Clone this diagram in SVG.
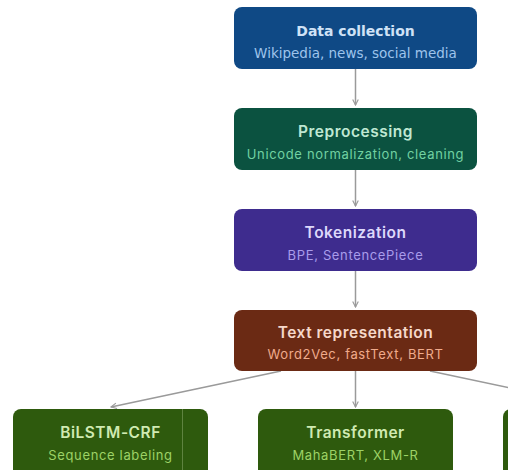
<svg xmlns="http://www.w3.org/2000/svg" width="508" height="470" viewBox="0 0 508 470">
<defs>
<style>
.t{font-family:Inter,"Noto Sans","Liberation Sans",sans-serif;font-size:15.5px;font-weight:600;text-anchor:middle;letter-spacing:0.5px}
.s{font-family:Inter,"Noto Sans","Liberation Sans",sans-serif;font-size:13px;font-weight:400;text-anchor:middle;letter-spacing:0.65px}
.tv{font-family:"DejaVu Sans",Verdana,sans-serif;font-size:14px;font-weight:700;text-anchor:middle}
.sv{font-family:"DejaVu Sans",Verdana,sans-serif;font-size:13.5px;font-weight:400;text-anchor:middle}
.c{stroke:#9a9a9a;stroke-width:1.5;fill:none}
</style>
<marker id="ah" viewBox="0 0 10 10" refX="9" refY="5" markerWidth="7" markerHeight="7" markerUnits="userSpaceOnUse" orient="auto">
<path d="M1,1 L9,5 L1,9" fill="none" stroke="#9a9a9a" stroke-width="1.6"/>
</marker>
</defs>
<rect width="508" height="470" fill="#ffffff"/>
<g id="connectors">
<line class="c" x1="355.5" y1="69" x2="355.5" y2="105" marker-end="url(#ah)"/>
<line class="c" x1="355.5" y1="170" x2="355.5" y2="206" marker-end="url(#ah)"/>
<line class="c" x1="355.5" y1="271" x2="355.5" y2="307" marker-end="url(#ah)"/>
<line class="c" x1="281" y1="371" x2="111" y2="407" marker-end="url(#ah)"/>
<line class="c" x1="355.5" y1="371" x2="355.5" y2="407" marker-end="url(#ah)"/>
<line class="c" x1="430" y1="371" x2="600" y2="407" marker-end="url(#ah)"/>
</g>
<g id="data-collection">
<rect x="234" y="7" width="243" height="62" rx="8" fill="#0f4985"/>
<text class="tv" x="355.5" y="36" fill="#cfe2f6">Data collection</text>
<text class="sv" x="355.5" y="58" fill="#9ec4ec">Wikipedia, news, social media</text>
</g>
<g id="preprocessing">
<rect x="234" y="108" width="243" height="62" rx="8" fill="#0b5240"/>
<text class="t" x="355.5" y="137" fill="#bfe8d3">Preprocessing</text>
<text class="s" x="355.5" y="159" fill="#72d1a2">Unicode normalization, cleaning</text>
</g>
<g id="tokenization">
<rect x="234" y="209" width="243" height="62" rx="8" fill="#3e2c8e"/>
<text class="t" x="355.5" y="238" fill="#ddd8fb">Tokenization</text>
<text class="s" x="355.5" y="260" fill="#a99ceb">BPE, SentencePiece</text>
</g>
<g id="text-representation">
<rect x="234" y="310" width="243" height="61" rx="8" fill="#6b2a14"/>
<text class="t" x="355.5" y="338" fill="#f6d8ca">Text representation</text>
<text class="s" x="355.5" y="359" fill="#f0ab8c">Word2Vec, fastText, BERT</text>
</g>
<g id="bilstm-crf">
<rect x="13" y="409" width="195" height="70" rx="8" fill="#2e5a0d"/>
<line x1="182.5" y1="409" x2="182.5" y2="470" stroke="#5f8340" stroke-width="1"/>
<text class="t" x="110.5" y="438" fill="#d0eab2">BiLSTM-CRF</text>
<text class="s" x="110.5" y="460" fill="#9dd266">Sequence labeling</text>
</g>
<g id="transformer">
<rect x="258" y="409" width="195" height="70" rx="8" fill="#2e5a0d"/>
<text class="t" x="355.5" y="438" fill="#d0eab2">Transformer</text>
<text class="s" x="355.5" y="460" fill="#9dd266">MahaBERT, XLM-R</text>
</g>
<g id="third-model">
<rect x="503" y="409" width="195" height="70" rx="8" fill="#2e5a0d"/>
</g>
</svg>
